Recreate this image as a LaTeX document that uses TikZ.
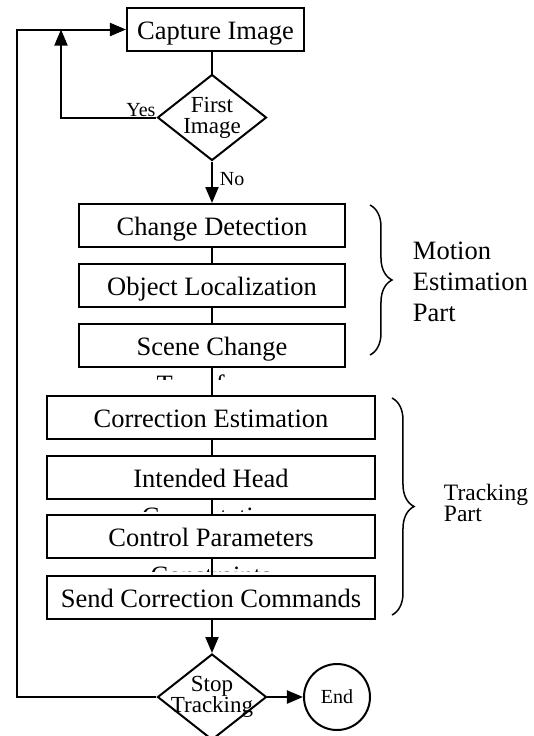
\documentclass[tikz,border=0pt]{standalone}
\usepackage{fontspec}
\setmainfont{Liberation Serif}
\usepackage{tikz}
\usetikzlibrary{arrows.meta,calc,shapes.geometric,decorations.pathreplacing}

\newcommand{\boxfont}{\fontsize{13.25}{17.75}\selectfont}
\newcommand{\decfont}{\fontsize{11.5}{10.5}\selectfont\lineskiplimit=-10pt}
\newcommand{\tagfont}{\fontsize{10}{12}\selectfont}
\newcommand{\sidefont}{\fontsize{13.25}{15.5}\selectfont}
\newcommand{\trackfont}{\fontsize{11.75}{10.5}\selectfont\lineskiplimit=-10pt}

% two centred lines that may stick out of the diamond
\newcommand{\twolines}[2]{\makebox[0pt]{#1}\\\makebox[0pt]{#2}}

\newcommand{\cutline}[3]{
    % only the top of the second line is seen under the box
    \begin{scope}
        \clip (#1.south west) rectangle ($(#1.south east)+(0,12)$);
        \node[font=\boxfont, anchor=base] (#2) at ($(#1.south)+(0,25.5)$) {#3};
    \end{scope}
}

\tikzset{
    stagebox/.style={draw, fill=white, inner sep=0pt, minimum height=21.5pt,
        text height=11pt, text depth=1pt, font=\boxfont},
    motionbox/.style={stagebox, minimum width=133pt},
    trackbox/.style={stagebox, minimum width=164pt},
    decision/.style={diamond, draw, fill=white, inner sep=0pt, minimum width=54.5pt,
        minimum height=43pt, align=center, font=\decfont},
    endcircle/.style={circle, draw, fill=white, inner sep=0pt, minimum size=33pt, font=\tagfont},
    partbrace/.style={decorate, decoration={brace, amplitude=11pt}, line width=0.75pt}
}

\begin{document}
\begin{tikzpicture}[x=0.5pt,y=-0.5pt,line width=1pt,>={Triangle[length=8pt,width=6.5pt]}]

\useasboundingbox (0,0) rectangle (534,736);

% -------------------------
% Etapas
% -------------------------
\node[stagebox, minimum width=88.5pt] (cap) at (215.5,29.5) {Capture Image};
\node[decision] (first) at (212,117.5) {\twolines{First}{Image}};

\node[motionbox] (chg)   at (212,225.5) {Change Detection};
\node[motionbox] (loc)   at (212,285.5) {Object Localization};
\node[motionbox] (scene) at (212,345)   {Scene Change};

\node[trackbox] (corr) at (211,417)   {Correction Estimation};
\node[trackbox] (head) at (211,477)   {Intended Head};
\node[trackbox] (ctrl) at (211,536.5) {Control Parameters};
\node[trackbox] (send) at (211,597)   {Send Correction Commands};

\node[decision] (stop) at (212,697) {\twolines{Stop}{Tracking}};
\node[endcircle] (finish) at (337,697) {End};

\cutline{scene}{sceneRest}{Transform}
\cutline{head}{headRest}{Computation}
\cutline{ctrl}{ctrlRest}{Constraints}

% -------------------------
% Ligações
% -------------------------
\draw (cap.south -| first.north) -- (first.north);
\draw[->] (first.south) -- (chg.north);
\foreach \a/\b in {chg/loc, loc/scene, scene/corr, corr/head, head/ctrl, ctrl/send} {
    \draw (\a.south -| first.south) -- (\b.north -| first.south);
}
\draw[->] (send.south -| stop.north) -- (stop.north);
\draw[->] (stop.east) -- (finish.west);

\coordinate (yesCorner) at (61,29.5);
\coordinate (loopCorner) at (17,29.5);
\draw[->] (first.west) -| (yesCorner);
\draw[->] (stop.west) -| (loopCorner) -- (cap.west);

\node[font=\tagfont, anchor=base east, inner sep=0pt] (yesTag) at ($(first.west)+(0,-1)$) {Yes};
\node[font=\tagfont, anchor=west, inner sep=1pt] (noTag) at ($(first.south)+(5,18)$) {No};

% -------------------------
% Chaves
% -------------------------
\coordinate (motionTop) at (370,205);
\coordinate (motionBot) at (370,355);
\draw[partbrace] (motionTop) -- (motionBot);
\node[font=\sidefont, align=left, anchor=west, inner sep=0pt] (motionTag) at (412,282) {Motion\\Estimation\\Part};

\coordinate (trackTop) at (392,398);
\coordinate (trackBot) at (392,615);
\draw[partbrace] (trackTop) -- (trackBot);
\node[font=\trackfont, align=left, anchor=west, inner sep=0pt] (trackTag) at (443,503) {Tracking\\Part};

\end{tikzpicture}
\end{document}
